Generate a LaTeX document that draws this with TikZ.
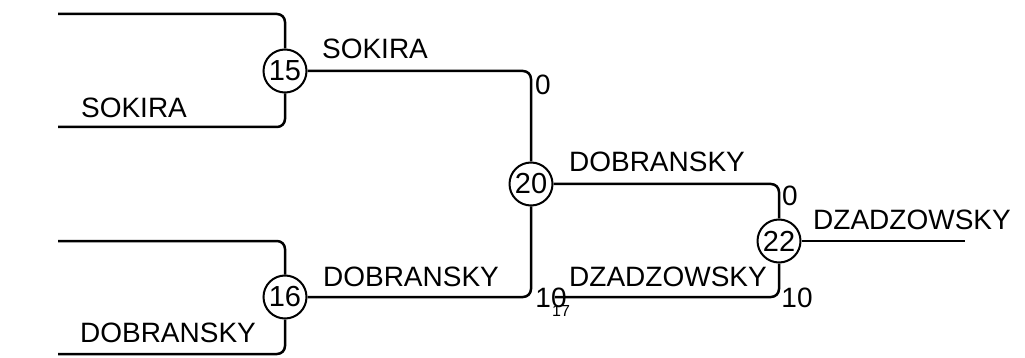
\documentclass[tikz,border=0pt]{standalone}
\usepackage{fontspec}
\setmainfont{Liberation Sans}
\begin{document}
\begin{tikzpicture}[x=1pt,y=-1pt,
  wire/.style={line width=2.5pt,rounded corners=8pt},
  seed/.style={circle,draw,line width=2pt,minimum size=43pt,inner sep=0pt,font=\fontsize{29}{32}\selectfont},
  playerlbl/.style={inner sep=0pt,font=\fontsize{28}{32}\selectfont},
  scorelbl/.style={inner sep=0pt,font=\fontsize{28}{32}\selectfont},
  smalllbl/.style={inner sep=0pt,font=\fontsize{16}{18}\selectfont}]
\useasboundingbox (0,0) rectangle (1025,358);
% free ends
\coordinate (a1) at (58,14);
\coordinate (a2) at (58,127);
\coordinate (b1) at (58,241);
\coordinate (b2) at (58,354);
\coordinate (f1) at (555,297);
\coordinate (f2) at (965,241);
% match circles
\node[seed] (c15) at (285,71) {15};
\node[seed] (c16) at (285,297) {16};
\node[seed] (c20) at (531,184) {20};
\node[seed] (c22) at (779,241) {22};
% connectors
\draw[wire] (a1) -| (c15);
\draw[wire] (a2) -| (c15);
\draw[wire] (b1) -| (c16);
\draw[wire] (b2) -| (c16);
\draw[wire] (c15) -| (c20);
\draw[wire] (c16) -| (c20);
\draw[wire] (c20) -| (c22);
\draw[wire] (f1) -| (c22);
\draw[wire] (c22) -- (f2);
% labels
\node[playerlbl] (l1) at (134,108) {SOKIRA};
\node[playerlbl] (l2) at (168,333) {DOBRANSKY};
\node[playerlbl] (l3) at (375,49) {SOKIRA};
\node[playerlbl] (l4) at (411,277) {DOBRANSKY};
\node[playerlbl] (l5) at (657,162) {DOBRANSKY};
\node[playerlbl] (l6) at (668,277) {DZADZOWSKY};
\node[playerlbl] (l7) at (912,220) {DZADZOWSKY};
\node[scorelbl] (s1) at (543,85) {0};
\node[scorelbl] (s2) at (551,298) {10};
\node[smalllbl] (s3) at (561,311) {17};
\node[scorelbl] (s4) at (790,196) {0};
\node[scorelbl] (s5) at (797,298) {10};
\end{tikzpicture}
\end{document}
